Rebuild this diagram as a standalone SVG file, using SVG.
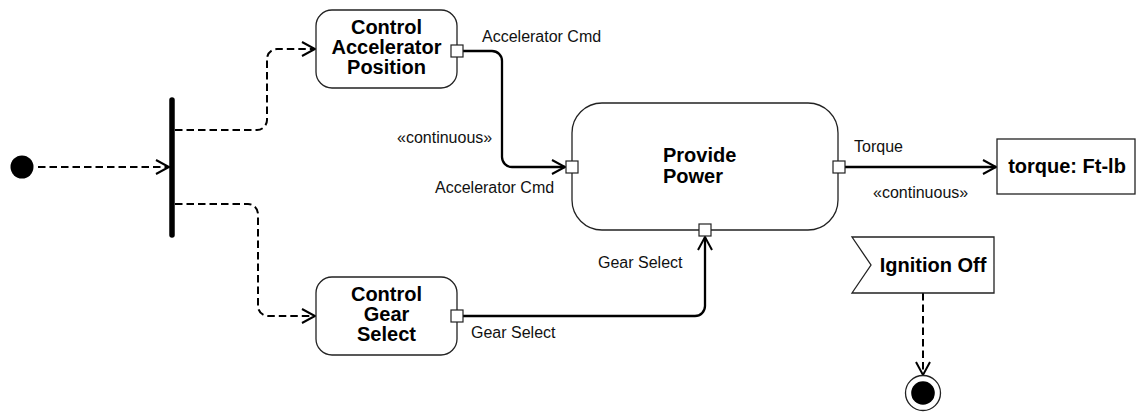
<svg xmlns="http://www.w3.org/2000/svg" width="1137" height="415" viewBox="0 0 1137 415">
  <style>
    .action { fill: #ffffff; stroke: #222222; stroke-width: 1.3; }
    .pin { fill: #ffffff; stroke: #222222; stroke-width: 1.2; }
    .name { font-family: "Liberation Sans", Arial, sans-serif; font-weight: bold; font-size: 20px; fill: #000000; }
    .label { font-family: "Liberation Sans", Arial, sans-serif; font-size: 16px; fill: #111111; }
    .control { fill: none; stroke: #000000; stroke-width: 2; stroke-dasharray: 7.5 4; }
    .flow { fill: none; stroke: #000000; stroke-width: 2.3; }
  </style>
  <defs>
    <marker id="open-arrow" markerUnits="userSpaceOnUse" markerWidth="17" markerHeight="18" refX="14" refY="8" orient="auto">
      <path d="M1,1 L14,8 L1,15" fill="none" stroke="#000000" stroke-width="2"/>
    </marker>
  </defs>

  <rect width="1137" height="415" fill="#ffffff"/>

  <!-- connectors -->
  <g id="connectors">
    <path class="control" d="M38,167 H169" marker-end="url(#open-arrow)"/>
    <path class="control" d="M175,130 H257 A10,10 0 0 0 267,120 V59 A10,10 0 0 1 277,49 H315" marker-end="url(#open-arrow)"/>
    <path class="control" d="M175,204 H248 A10,10 0 0 1 258,214 V306 A10,10 0 0 0 268,316 H315" marker-end="url(#open-arrow)"/>
    <path class="flow" d="M463,51 H492 A10,10 0 0 1 502,61 V157 A10,10 0 0 0 512,167 H565" marker-end="url(#open-arrow)"/>
    <path class="flow" d="M845,167 H996" marker-end="url(#open-arrow)"/>
    <path class="flow" d="M463,316 H695 A10,10 0 0 0 705,306 V237" marker-end="url(#open-arrow)"/>
    <path class="control" d="M923,293 V375" marker-end="url(#open-arrow)"/>
    <text class="label" x="482" y="42">Accelerator Cmd</text>
    <text class="label" x="397" y="143">«continuous»</text>
    <text class="label" x="435" y="193">Accelerator Cmd</text>
    <text class="label" x="854" y="152">Torque</text>
    <text class="label" x="873" y="198">«continuous»</text>
    <text class="label" x="598" y="268">Gear Select</text>
    <text class="label" x="471" y="338">Gear Select</text>
  </g>

  <!-- start and fork -->
  <g id="initial">
    <circle cx="22" cy="167" r="11.5" fill="#000000"/>
  </g>
  <g id="fork">
    <line x1="172" y1="100" x2="172" y2="235" stroke="#000000" stroke-width="5.5" stroke-linecap="round"/>
  </g>

  <g id="control-accelerator-position">
    <rect class="action" x="316" y="10" width="141" height="78" rx="16"/>
    <text class="name" x="386.5" text-anchor="middle"><tspan x="386.5" y="34">Control</tspan><tspan x="386.5" y="54">Accelerator</tspan><tspan x="386.5" y="74">Position</tspan></text>
    <rect class="pin" x="451" y="45" width="12" height="12"/>
  </g>

  <g id="control-gear-select">
    <rect class="action" x="316" y="277" width="141" height="78" rx="16"/>
    <text class="name" x="386.5" text-anchor="middle"><tspan x="386.5" y="301">Control</tspan><tspan x="386.5" y="321">Gear</tspan><tspan x="386.5" y="341">Select</tspan></text>
    <rect class="pin" x="451" y="310" width="12" height="12"/>
  </g>

  <g id="provide-power">
    <rect class="action" x="572" y="103" width="266" height="127" rx="30"/>
    <text class="name"><tspan x="663" y="162">Provide</tspan><tspan x="663" y="183">Power</tspan></text>
    <rect class="pin" x="566" y="161" width="12" height="12"/>
    <rect class="pin" x="833" y="161" width="12" height="12"/>
    <rect class="pin" x="699" y="224" width="12" height="12"/>
  </g>

  <g id="torque">
    <rect class="action" x="997" y="139" width="138" height="55"/>
    <text class="name" x="1067" y="173" text-anchor="middle">torque: Ft-lb</text>
  </g>

  <g id="ignition-off">
    <polygon class="action" points="852,237 994,237 994,293 852,293 871,265"/>
    <text class="name" x="933" y="272" text-anchor="middle">Ignition Off</text>
  </g>

  <g id="final">
    <circle cx="923" cy="393" r="17.5" fill="#ffffff" stroke="#222222" stroke-width="1.3"/>
    <circle cx="923" cy="393" r="11.8" fill="#000000"/>
  </g>
</svg>
